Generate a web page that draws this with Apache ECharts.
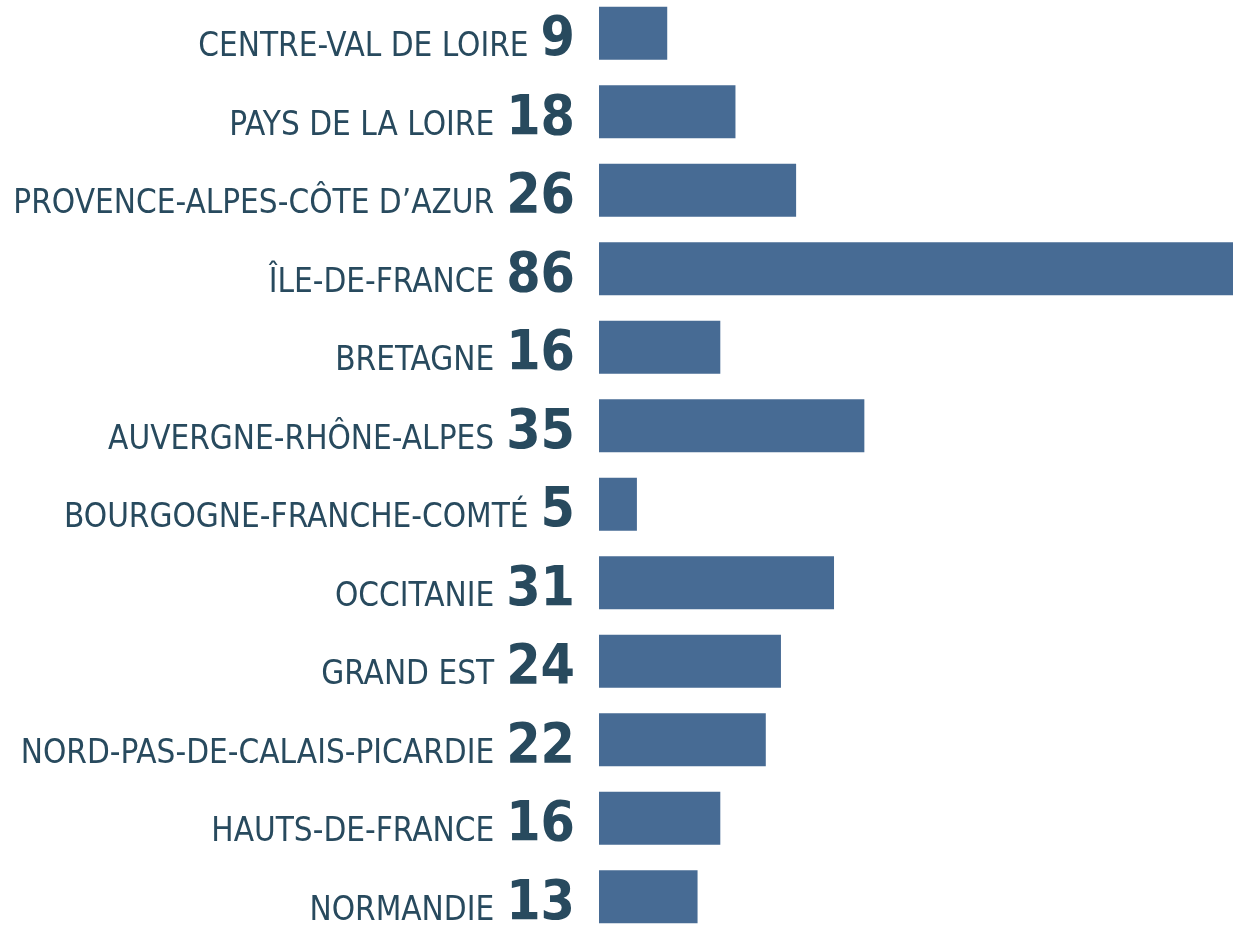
<!DOCTYPE html>
<html>
<head>
<meta charset="utf-8">
<script src="https://cdn.jsdelivr.net/npm/echarts@6/dist/echarts.min.js"></script>
<style>
	html, body { margin: 0; padding: 0; background: #fff; }
	#chart { width: 1233px; height: 927px; }
</style>
</head>
<body>
<div id="chart"></div>
<script>
// regions, top to bottom
const regions = [
	'CENTRE-VAL DE LOIRE',
	'PAYS DE LA LOIRE',
	'PROVENCE-ALPES-CÔTE D’AZUR',
	'ÎLE-DE-FRANCE',
	'BRETAGNE',
	'AUVERGNE-RHÔNE-ALPES',
	'BOURGOGNE-FRANCHE-COMTÉ',
	'OCCITANIE',
	'GRAND EST',
	'NORD-PAS-DE-CALAIS-PICARDIE',
	'HAUTS-DE-FRANCE',
	'NORMANDIE',
];
const counts = [9, 18, 26, 86, 16, 35, 5, 31, 24, 22, 16, 13];

const narrow = "'Liberation Sans Narrow', 'DejaVu Sans Condensed', sans-serif";
const textColor = '#284a5e';

const myChart = echarts.init(document.getElementById('chart'));
const option = {
	animation: false,
	grid: {
		left: 599,
		right: -18, // the longest bar runs off the right edge
		top: -6,
		height: 942,
		outerBoundsMode: 'none',
		containLabel: false,
	},
	xAxis: {
		type: 'value',
		min: 0,
		max: 86,
		show: false,
	},
	yAxis: {
		type: 'category',
		inverse: true,
		data: regions,
		axisLine: { show: false },
		axisTick: { show: false },
		splitLine: { show: false },
		axisLabel: {
			margin: 24,
			padding: [14, 0, 0, 0],
			formatter: (name, i) => '{n|' + name + '}{v|' + counts[i] + '}',
			rich: {
				n: {
					fontFamily: narrow,
					fontSize: 33,
					color: textColor,
					lineHeight: 56,
					verticalAlign: 'bottom',
					padding: [0, 12, 4, 0],
				},
				v: {
					fontFamily: narrow,
					fontWeight: 'bold',
					fontSize: 55,
					color: textColor,
					lineHeight: 56,
					verticalAlign: 'bottom',
				},
			},
		},
	},
	series: [
		{
			type: 'bar',
			data: counts,
			barWidth: 53,
			itemStyle: { color: '#476b94' },
		},
	],
};
myChart.setOption(option);
</script>
</body>
</html>
